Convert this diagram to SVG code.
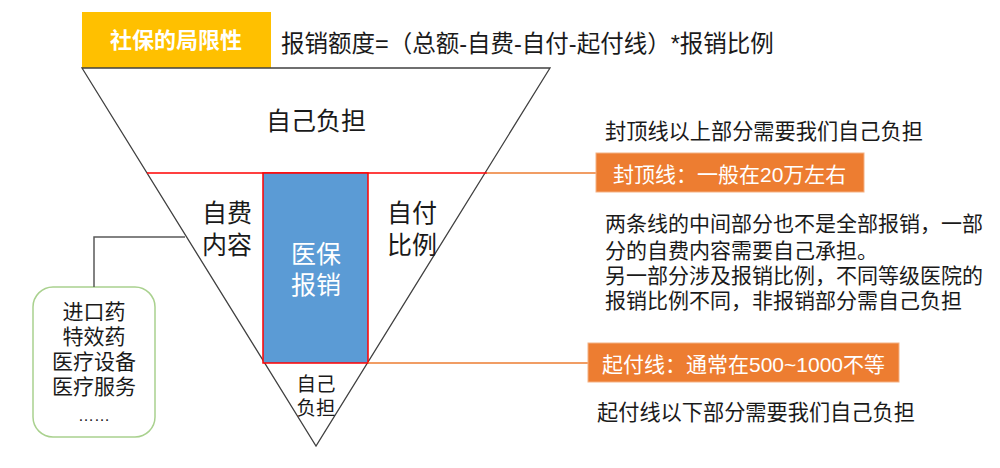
<svg xmlns="http://www.w3.org/2000/svg" width="1000" height="468" viewBox="0 0 1000 468">
<style>
text{font-family:"Liberation Sans","Noto Sans CJK SC",sans-serif;fill:#1a1a1a}
.w{fill:#ffffff}
.c{text-anchor:middle}
.big{font-size:25px}
.mid{font-size:21px}
.obox{fill:#ED7D31;stroke:#F4B183;stroke-width:1}
.oline{stroke:#ED7D31;stroke-width:1.5;fill:none}
</style>
<rect width="1000" height="468" fill="#ffffff"/>
<g id="title">
<rect x="82" y="12" width="189" height="56" fill="#FFC000"/>
<text x="176" y="48" class="w c" font-size="22" font-weight="bold">社保的局限性</text>
</g>
<g id="formula">
<text x="281" y="52" font-size="23.5">报销额度=（总额-自费-自付-起付线）*报销比例</text>
</g>
<g id="funnel">
<polygon points="82,68 550,68 316,446" fill="#ffffff" stroke="#404040" stroke-width="1.3"/>
<line x1="147" y1="173" x2="487" y2="173" stroke="#FF0000" stroke-width="1.5"/>
<text x="316" y="130" class="c big">自己负担</text>
<text x="227" y="222" class="c big">自费</text>
<text x="227" y="254" class="c big">内容</text>
<text x="412" y="222" class="c big">自付</text>
<text x="412" y="254" class="c big">比例</text>
<text x="316" y="391" class="c" font-size="19.5">自己</text>
<text x="316" y="415" class="c" font-size="19.5">负担</text>
</g>
<g id="reimburse">
<rect x="263" y="173" width="105" height="190" fill="#5B9BD5" stroke="#FF0000" stroke-width="1.5"/>
<text x="316" y="263" class="w c big">医保</text>
<text x="316" y="294" class="w c big">报销</text>
</g>
<g id="selfpay-items">
<rect x="33" y="287" width="122" height="150" rx="20" ry="20" fill="#ffffff" stroke="#A9D18E" stroke-width="1.5"/>
<text x="94" y="319" class="c mid">进口药</text>
<text x="94" y="344" class="c mid">特效药</text>
<text x="94" y="369" class="c mid">医疗设备</text>
<text x="94" y="394" class="c mid">医疗服务</text>
<text x="94" y="421" class="c" font-size="16">……</text>
</g>
<g id="connectors">
<polyline points="94,287 94,237 185,237" fill="none" stroke="#595959" stroke-width="1.5"/>
<line x1="487" y1="173" x2="596" y2="173" class="oline"/>
<line x1="368" y1="363" x2="588" y2="363" class="oline"/>
</g>
<g id="cap-note">
<text x="605" y="139" font-size="21.2">封顶线以上部分需要我们自己负担</text>
</g>
<g id="cap-line">
<rect x="596" y="153" width="268" height="39" class="obox"/>
<text x="613" y="182" class="w" font-size="21">封顶线：一般在20万左右</text>
</g>
<g id="middle-note">
<text x="605" y="231" font-size="21">两条线的中间部分也不是全部报销，一部</text>
<text x="605" y="258" font-size="21">分的自费内容需要自己承担。</text>
<text x="605" y="283" font-size="21">另一部分涉及报销比例，不同等级医院的</text>
<text x="605" y="308" font-size="21">报销比例不同，非报销部分需自己负担</text>
</g>
<g id="deductible-line">
<rect x="588" y="343" width="311" height="39" class="obox"/>
<text x="602" y="372" class="w" font-size="21">起付线：通常在500~1000不等</text>
</g>
<g id="deductible-note">
<text x="597" y="420" font-size="21.2">起付线以下部分需要我们自己负担</text>
</g>
</svg>
